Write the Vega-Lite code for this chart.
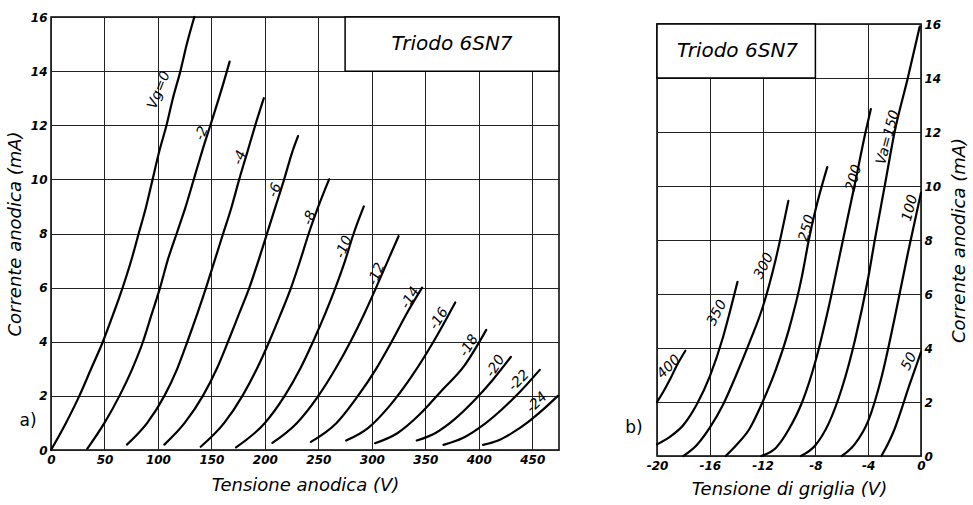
{
  "$schema": "https://vega.github.io/schema/vega-lite/v6.json",
  "background": "white",
  "padding": {"left": 5, "top": 10, "right": 3, "bottom": 2},
  "config": {
    "view": {"stroke": "#000", "strokeWidth": 1.5},
    "font": "DejaVu Sans",
    "axis": {
      "grid": true, "gridColor": "#222", "gridWidth": 1, "gridOpacity": 1,
      "domain": false, "ticks": false, "labelOverlap": false, "labelFlush": false,
      "labelFont": "DejaVu Sans", "labelFontStyle": "italic", "labelFontWeight": "bold", "labelFontSize": 12, "labelColor": "#000",
      "titleFont": "DejaVu Sans", "titleFontStyle": "italic", "titleFontWeight": "normal", "titleFontSize": 18, "titleColor": "#000"
    },
    "text": {"font": "DejaVu Sans", "fontStyle": "italic", "color": "#000"}
  },
  "spacing": 98,
  "bounds": "flush",
  "hconcat": [
    {
      "width": 508,
      "height": 433,
      "layer": [
        {
          "data": {"values": [
            {"vg":"0","v":0,"i":0},{"vg":"0","v":14,"i":1},{"vg":"0","v":26.5,"i":2},{"vg":"0","v":37.5,"i":3},{"vg":"0","v":48.5,"i":4},{"vg":"0","v":58,"i":5},{"vg":"0","v":67,"i":6},{"vg":"0","v":75,"i":7},{"vg":"0","v":82,"i":8},{"vg":"0","v":89,"i":9},{"vg":"0","v":95,"i":10},{"vg":"0","v":101,"i":11},{"vg":"0","v":108,"i":12},{"vg":"0","v":114,"i":13},{"vg":"0","v":121,"i":14},{"vg":"0","v":127,"i":15},{"vg":"0","v":134,"i":16},
            {"vg":"-2","v":34,"i":0.05},{"vg":"-2","v":50,"i":1},{"vg":"-2","v":64,"i":2},{"vg":"-2","v":76,"i":3},{"vg":"-2","v":86,"i":4},{"vg":"-2","v":94,"i":5},{"vg":"-2","v":102,"i":6},{"vg":"-2","v":109,"i":7},{"vg":"-2","v":117.5,"i":8},{"vg":"-2","v":126,"i":9},{"vg":"-2","v":133.5,"i":10},{"vg":"-2","v":141,"i":11},{"vg":"-2","v":149,"i":12},{"vg":"-2","v":157,"i":13},{"vg":"-2","v":164.5,"i":14},{"vg":"-2","v":167,"i":14.35},
            {"vg":"-4","v":71,"i":0.2},{"vg":"-4","v":90,"i":1},{"vg":"-4","v":106,"i":2},{"vg":"-4","v":118,"i":3},{"vg":"-4","v":127.5,"i":4},{"vg":"-4","v":136.5,"i":5},{"vg":"-4","v":145,"i":6},{"vg":"-4","v":153,"i":7},{"vg":"-4","v":161,"i":8},{"vg":"-4","v":169,"i":9},{"vg":"-4","v":176,"i":10},{"vg":"-4","v":183.5,"i":11},{"vg":"-4","v":191,"i":12},{"vg":"-4","v":199,"i":13},
            {"vg":"-6","v":106,"i":0.2},{"vg":"-6","v":125,"i":1},{"vg":"-6","v":142,"i":2},{"vg":"-6","v":155,"i":3},{"vg":"-6","v":165.5,"i":4},{"vg":"-6","v":175.5,"i":5},{"vg":"-6","v":185.5,"i":6},{"vg":"-6","v":194,"i":7},{"vg":"-6","v":202,"i":8},{"vg":"-6","v":210,"i":9},{"vg":"-6","v":218,"i":10},{"vg":"-6","v":225.5,"i":11},{"vg":"-6","v":231,"i":11.6},
            {"vg":"-8","v":140,"i":0.12},{"vg":"-8","v":162,"i":1},{"vg":"-8","v":179,"i":2},{"vg":"-8","v":192.5,"i":3},{"vg":"-8","v":204,"i":4},{"vg":"-8","v":214.5,"i":5},{"vg":"-8","v":224.5,"i":6},{"vg":"-8","v":233,"i":7},{"vg":"-8","v":241,"i":8},{"vg":"-8","v":250,"i":9},{"vg":"-8","v":260,"i":10},
            {"vg":"-10","v":173,"i":0.1},{"vg":"-10","v":200,"i":1},{"vg":"-10","v":218.5,"i":2},{"vg":"-10","v":233,"i":3},{"vg":"-10","v":245,"i":4},{"vg":"-10","v":256,"i":5},{"vg":"-10","v":266,"i":6},{"vg":"-10","v":275,"i":7},{"vg":"-10","v":283,"i":8},{"vg":"-10","v":292.5,"i":9},
            {"vg":"-12","v":207,"i":0.26},{"vg":"-12","v":230,"i":1},{"vg":"-12","v":250,"i":2},{"vg":"-12","v":266,"i":3},{"vg":"-12","v":280,"i":4},{"vg":"-12","v":292.5,"i":5},{"vg":"-12","v":304,"i":6},{"vg":"-12","v":315,"i":7},{"vg":"-12","v":325,"i":7.9},
            {"vg":"-14","v":243,"i":0.3},{"vg":"-14","v":267,"i":1},{"vg":"-14","v":287,"i":2},{"vg":"-14","v":304,"i":3},{"vg":"-14","v":318.5,"i":4},{"vg":"-14","v":332,"i":5},{"vg":"-14","v":347,"i":6.0},
            {"vg":"-16","v":276,"i":0.35},{"vg":"-16","v":296.4,"i":0.81},{"vg":"-16","v":316.8,"i":1.64},{"vg":"-16","v":337.2,"i":2.72},{"vg":"-16","v":357.6,"i":4.0},{"vg":"-16","v":378,"i":5.45},
            {"vg":"-18","v":303,"i":0.25},{"vg":"-18","v":323.8,"i":0.62},{"vg":"-18","v":344.6,"i":1.31},{"vg":"-18","v":365.4,"i":2.2},{"vg":"-18","v":386.2,"i":3.1},{"vg":"-18","v":407,"i":4.44},
            {"vg":"-20","v":342,"i":0.35},{"vg":"-20","v":359.6,"i":0.63},{"vg":"-20","v":377.2,"i":1.13},{"vg":"-20","v":394.8,"i":1.79},{"vg":"-20","v":412.4,"i":2.56},{"vg":"-20","v":430,"i":3.44},
            {"vg":"-22","v":367,"i":0.19},{"vg":"-22","v":385,"i":0.44},{"vg":"-22","v":403,"i":0.89},{"vg":"-22","v":421,"i":1.48},{"vg":"-22","v":439,"i":2.17},{"vg":"-22","v":457,"i":2.96},
            {"vg":"-24","v":404,"i":0.19},{"vg":"-24","v":418,"i":0.35},{"vg":"-24","v":432,"i":0.65},{"vg":"-24","v":446,"i":1.03},{"vg":"-24","v":460,"i":1.49},{"vg":"-24","v":474,"i":2.0}
          ]},
          "mark": {"type": "line", "color": "#000", "strokeWidth": 2.2, "interpolate": "monotone", "strokeCap": "round"},
          "encoding": {
            "x": {"field": "v", "type": "quantitative",
                  "scale": {"domain": [0, 475], "nice": false, "zero": false},
                  "axis": {"title": "Tensione anodica (V)",
                           "values": [0,25,50,75,100,125,150,175,200,225,250,275,300,325,350,375,400,425,450,475],
                           "labelExpr": "(datum.value % 50 === 0 && datum.value < 475) ? '' + datum.value : ''",
                           "labelPadding": 4, "titlePadding": 11}},
            "y": {"field": "i", "type": "quantitative",
                  "scale": {"domain": [0, 16], "nice": false, "zero": false},
                  "axis": {"title": "Corrente anodica (mA)",
                           "values": [0,1,2,3,4,5,6,7,8,9,10,11,12,13,14,15,16],
                           "labelExpr": "datum.value % 2 === 0 ? '' + datum.value : ''",
                           "labelPadding": 4, "titlePadding": 6}},
            "detail": {"field": "vg"}
          }
        },
        {
          "data": {"values": [{"v": 275, "v2": 475, "i": 14, "i2": 16}]},
          "mark": {"type": "rect", "fill": "white", "stroke": "#000", "strokeWidth": 1.5},
          "encoding": {
            "x": {"field": "v", "type": "quantitative"}, "x2": {"field": "v2"},
            "y": {"field": "i", "type": "quantitative"}, "y2": {"field": "i2"}
          }
        },
        {
          "data": {"values": [{"v": 375, "i": 15, "t": "Triodo 6SN7"}]},
          "mark": {"type": "text", "fontSize": 20, "fontStyle": "italic"},
          "encoding": {"x": {"field": "v", "type": "quantitative"}, "y": {"field": "i", "type": "quantitative"}, "text": {"field": "t"}}
        },
        {
          "data": {"values": [
            {"v": 101, "i": 13.3, "t": "Vg=0"}, {"v": 141, "i": 11.7, "t": "-2"}, {"v": 176.7, "i": 10.8, "t": "-4"},
            {"v": 209.4, "i": 9.6, "t": "-6"}, {"v": 242, "i": 8.57, "t": "-8"}, {"v": 274, "i": 7.5, "t": "-10"}, {"v": 304.4, "i": 6.5, "t": "-12"}
          ]},
          "mark": {"type": "text", "fontSize": 14, "angle": -68},
          "encoding": {"x": {"field": "v", "type": "quantitative"}, "y": {"field": "i", "type": "quantitative"}, "text": {"field": "t"}}
        },
        {
          "data": {"values": [
            {"v": 336, "i": 5.62, "t": "-14"}, {"v": 362.8, "i": 4.85, "t": "-16"}, {"v": 390.8, "i": 3.85, "t": "-18"}, {"v": 415.6, "i": 3.1, "t": "-20"}
          ]},
          "mark": {"type": "text", "fontSize": 14, "angle": -58},
          "encoding": {"x": {"field": "v", "type": "quantitative"}, "y": {"field": "i", "type": "quantitative"}, "text": {"field": "t"}}
        },
        {
          "data": {"values": [{"v": 437.6, "i": 2.56, "t": "-22"}, {"v": 454.4, "i": 1.75, "t": "-24"}]},
          "mark": {"type": "text", "fontSize": 14, "angle": -45},
          "encoding": {"x": {"field": "v", "type": "quantitative"}, "y": {"field": "i", "type": "quantitative"}, "text": {"field": "t"}}
        },
        {
          "data": {"values": [{"v": -21.5, "i": 1.07, "t": "a)"}]},
          "mark": {"type": "text", "fontSize": 17, "fontStyle": "normal"},
          "encoding": {"x": {"field": "v", "type": "quantitative"}, "y": {"field": "i", "type": "quantitative"}, "text": {"field": "t"}}
        }
      ]
    },
    {
      "spacing": 6,
      "bounds": "flush",
      "vconcat": [
        {"width": 264, "height": 1, "view": {"stroke": null}, "data": {"values": []}, "mark": "point"},
        {
          "width": 264,
          "height": 432,
          "layer": [
            {
              "data": {"values": [
                {"va":"50","g":-3.0,"i":0},{"va":"50","g":-2.5,"i":0.45},{"va":"50","g":-2,"i":1.0},{"va":"50","g":-1.5,"i":1.7},{"va":"50","g":-1,"i":2.45},{"va":"50","g":-0.5,"i":3.15},{"va":"50","g":0,"i":3.85},
                {"va":"100","g":-6.0,"i":0},{"va":"100","g":-5,"i":0.45},{"va":"100","g":-4,"i":1.3},{"va":"100","g":-3,"i":2.9},{"va":"100","g":-2,"i":5.1},{"va":"100","g":-1,"i":7.5},{"va":"100","g":0,"i":9.75},
                {"va":"150","g":-9.1,"i":0},{"va":"150","g":-8,"i":0.4},{"va":"150","g":-7,"i":1.2},{"va":"150","g":-6,"i":2.5},{"va":"150","g":-5,"i":4.3},{"va":"150","g":-4,"i":6.6},{"va":"150","g":-3.5,"i":8.0},{"va":"150","g":-2.75,"i":10},{"va":"150","g":-2,"i":12},{"va":"150","g":-1,"i":14},{"va":"150","g":-0.1,"i":15.9},
                {"va":"200","g":-12.1,"i":0},{"va":"200","g":-11,"i":0.3},{"va":"200","g":-10,"i":1.0},{"va":"200","g":-9,"i":2.0},{"va":"200","g":-8,"i":3.5},{"va":"200","g":-7,"i":5.5},{"va":"200","g":-6,"i":7.8},{"va":"200","g":-5,"i":10.1},{"va":"200","g":-4.2,"i":12},{"va":"200","g":-3.8,"i":12.85},
                {"va":"250","g":-14.8,"i":0},{"va":"250","g":-14,"i":0.4},{"va":"250","g":-13,"i":1.0},{"va":"250","g":-12,"i":2.0},{"va":"250","g":-11,"i":3.2},{"va":"250","g":-10,"i":4.7},{"va":"250","g":-9,"i":6.7},{"va":"250","g":-8.5,"i":8.0},{"va":"250","g":-8,"i":9.1},{"va":"250","g":-7.1,"i":10.7},
                {"va":"300","g":-18,"i":0},{"va":"300","g":-17,"i":0.4},{"va":"300","g":-16,"i":1.05},{"va":"300","g":-15,"i":1.9},{"va":"300","g":-14,"i":3.0},{"va":"300","g":-13,"i":4.2},{"va":"300","g":-12,"i":5.5},{"va":"300","g":-11,"i":7.3},{"va":"300","g":-10.05,"i":9.45},
                {"va":"350","g":-20,"i":0.43},{"va":"350","g":-19,"i":0.72},{"va":"350","g":-18,"i":1.15},{"va":"350","g":-17,"i":1.9},{"va":"350","g":-16,"i":2.95},{"va":"350","g":-15,"i":4.4},{"va":"350","g":-14.5,"i":5.3},{"va":"350","g":-13.9,"i":6.45},
                {"va":"400","g":-20,"i":2.0},{"va":"400","g":-19.5,"i":2.4},{"va":"400","g":-19,"i":2.85},{"va":"400","g":-18.5,"i":3.35},{"va":"400","g":-17.85,"i":3.9}
              ]},
              "mark": {"type": "line", "color": "#000", "strokeWidth": 2.2, "interpolate": "monotone", "strokeCap": "round"},
              "encoding": {
                "x": {"field": "g", "type": "quantitative",
                      "scale": {"domain": [-20, 0], "nice": false, "zero": false},
                      "axis": {"title": "Tensione di griglia (V)",
                               "values": [-20,-18,-16,-14,-12,-10,-8,-6,-4,-2,0],
                               "labelExpr": "datum.value % 4 === 0 ? '' + datum.value : ''",
                               "labelPadding": 4, "titlePadding": 9}},
                "y": {"field": "i", "type": "quantitative",
                      "scale": {"domain": [0, 16], "nice": false, "zero": false},
                      "axis": {"title": "Corrente anodica (mA)", "orient": "right",
                               "values": [0,1,2,3,4,5,6,7,8,9,10,11,12,13,14,15,16],
                               "labelExpr": "datum.value % 2 === 0 ? '' + datum.value : ''",
                               "labelPadding": 3, "titlePadding": 10, "titleAngle": 270, "titleBaseline": "top"}},
                "detail": {"field": "va"}
              }
            },
            {
              "data": {"values": [{"g": -20, "g2": -8, "i": 14, "i2": 16}]},
              "mark": {"type": "rect", "fill": "white", "stroke": "#000", "strokeWidth": 1.5},
              "encoding": {
                "x": {"field": "g", "type": "quantitative"}, "x2": {"field": "g2"},
                "y": {"field": "i", "type": "quantitative"}, "y2": {"field": "i2"}
              }
            },
            {
              "data": {"values": [{"g": -13.9, "i": 15, "t": "Triodo 6SN7"}]},
              "mark": {"type": "text", "fontSize": 20, "fontStyle": "italic"},
              "encoding": {"x": {"field": "g", "type": "quantitative"}, "y": {"field": "i", "type": "quantitative"}, "text": {"field": "t"}}
            },
            {
              "data": {"values": [
                {"g": -2.5, "i": 11.8, "t": "Va=150"}, {"g": -5.08, "i": 10.3, "t": "200"}, {"g": -8.64, "i": 8.44, "t": "250"}, {"g": -0.83, "i": 9.18, "t": "100"}
              ]},
              "mark": {"type": "text", "fontSize": 14, "angle": -75},
              "encoding": {"x": {"field": "g", "type": "quantitative"}, "y": {"field": "i", "type": "quantitative"}, "text": {"field": "t"}}
            },
            {
              "data": {"values": [
                {"g": -11.9, "i": 7.04, "t": "300"}, {"g": -15.45, "i": 5.3, "t": "350"}, {"g": -0.9, "i": 3.5, "t": "50"}
              ]},
              "mark": {"type": "text", "fontSize": 14, "angle": -63},
              "encoding": {"x": {"field": "g", "type": "quantitative"}, "y": {"field": "i", "type": "quantitative"}, "text": {"field": "t"}}
            },
            {
              "data": {"values": [{"g": -19.1, "i": 3.3, "t": "400"}]},
              "mark": {"type": "text", "fontSize": 14, "angle": -45},
              "encoding": {"x": {"field": "g", "type": "quantitative"}, "y": {"field": "i", "type": "quantitative"}, "text": {"field": "t"}}
            },
            {
              "data": {"values": [{"g": -21.74, "i": 1.04, "t": "b)"}]},
              "mark": {"type": "text", "fontSize": 17, "fontStyle": "normal"},
              "encoding": {"x": {"field": "g", "type": "quantitative"}, "y": {"field": "i", "type": "quantitative"}, "text": {"field": "t"}}
            }
          ]
        }
      ]
    }
  ]
}
